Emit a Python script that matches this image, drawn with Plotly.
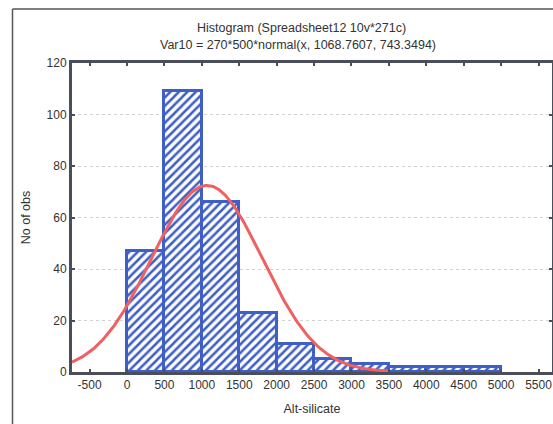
import numpy as np
import plotly.graph_objects as go

# Data
bin_lefts = [0, 500, 1000, 1500, 2000, 2500, 3000, 3500, 4000, 4500]
bin_width = 500
counts = [47, 109, 66, 23, 11, 5, 3, 2, 2, 2]
fit_n = 270
fit_mean = 1068.7607
fit_sd = 743.3494
x_ticks = [-500, 0, 500, 1000, 1500, 2000, 2500, 3000, 3500, 4000, 4500, 5000, 5500]
y_ticks = [0, 20, 40, 60, 80, 100, 120]

W, H = 553, 424
ml, mt = 72, 63
mr = 1
mb = H - 372
x_range = [-735, 5680]
y_range = [0, 120]

blue = "#3f5fc6"
red = "#f06062"
axis_col = "#4a4d5a"

centers = [b + bin_width / 2 for b in bin_lefts]

curve_x = np.linspace(x_range[0], 3500, 300)
curve_y = fit_n * bin_width * np.exp(-0.5 * ((curve_x - fit_mean) / fit_sd) ** 2) / (fit_sd * np.sqrt(2 * np.pi))

fig = go.Figure()
fig.add_trace(go.Bar(
    x=centers, y=counts, width=[bin_width] * len(counts),
    marker=dict(
        color="white",
        line=dict(color=blue, width=3),
        pattern=dict(shape="/", fgcolor=blue, bgcolor="white", fgopacity=1,
                     size=6, solidity=0.42, fillmode="overlay"),
    ),
    showlegend=False,
))
fig.add_trace(go.Scatter(
    x=curve_x, y=curve_y, mode="lines",
    line=dict(color=red, width=3),
    showlegend=False, cliponaxis=True,
))

font = dict(family="Liberation Sans, Arial, sans-serif", size=12, color="#333333")
title_font = dict(family="Liberation Sans, Arial, sans-serif", size=12.5, color="#333333")

def px_x(p):
    return (p - ml) / (W - ml - mr)

def px_y(p):
    return 1 - (p - mt) / (H - mt - mb)

fig.update_layout(
    width=W, height=H,
    margin=dict(l=ml, r=mr, t=mt, b=mb, autoexpand=False),
    paper_bgcolor="white", plot_bgcolor="white",
    font=font,
    bargap=0,
    xaxis=dict(
        range=x_range, tickvals=x_ticks, ticktext=[str(v) for v in x_ticks],
        showgrid=False, zeroline=False, automargin=False,
        showline=True, linecolor=axis_col, linewidth=3, mirror="ticks",
        ticks="inside", ticklen=3, tickwidth=2, tickcolor=axis_col,
        title=dict(text="Alt-silicate", font=title_font, standoff=13),
        tickfont=font,
    ),
    yaxis=dict(
        range=y_range, tickvals=y_ticks,
        showgrid=True, gridcolor="#d2d2d2", griddash="dot", gridwidth=1,
        zeroline=False, automargin=False,
        showline=True, linecolor=axis_col, linewidth=3, mirror="ticks",
        ticks="inside", ticklen=3, tickwidth=2, tickcolor=axis_col,
        title=dict(text="No of obs", font=title_font, standoff=14),
        tickfont=font,
    ),
    annotations=[
        dict(text="Histogram (Spreadsheet12 10v*271c)", x=px_x(301), y=px_y(28),
             xref="paper", yref="paper", showarrow=False, font=title_font,
             xanchor="center", yanchor="middle"),
        dict(text="Var10 = 270*500*normal(x, 1068.7607, 743.3494)", x=px_x(298), y=px_y(45),
             xref="paper", yref="paper", showarrow=False, font=title_font,
             xanchor="center", yanchor="middle"),
    ],
)

# outer window frame lines
fig.add_shape(type="line", xref="paper", yref="paper",
              x0=px_x(12.5), x1=px_x(12.5), y0=px_y(9), y1=px_y(430),
              line=dict(color="#555555", width=1.5))
fig.add_shape(type="line", xref="paper", yref="paper",
              x0=px_x(12.5), x1=px_x(560), y0=px_y(9), y1=px_y(9),
              line=dict(color="#555555", width=1.5))

fig.write_html(
    "out.html",
    config={"displayModeBar": False},
    post_script=(
        "document.body.style.margin='0';"
        "document.body.style.overflow='hidden';"
        "document.documentElement.style.overflow='hidden';"
    ),
)
